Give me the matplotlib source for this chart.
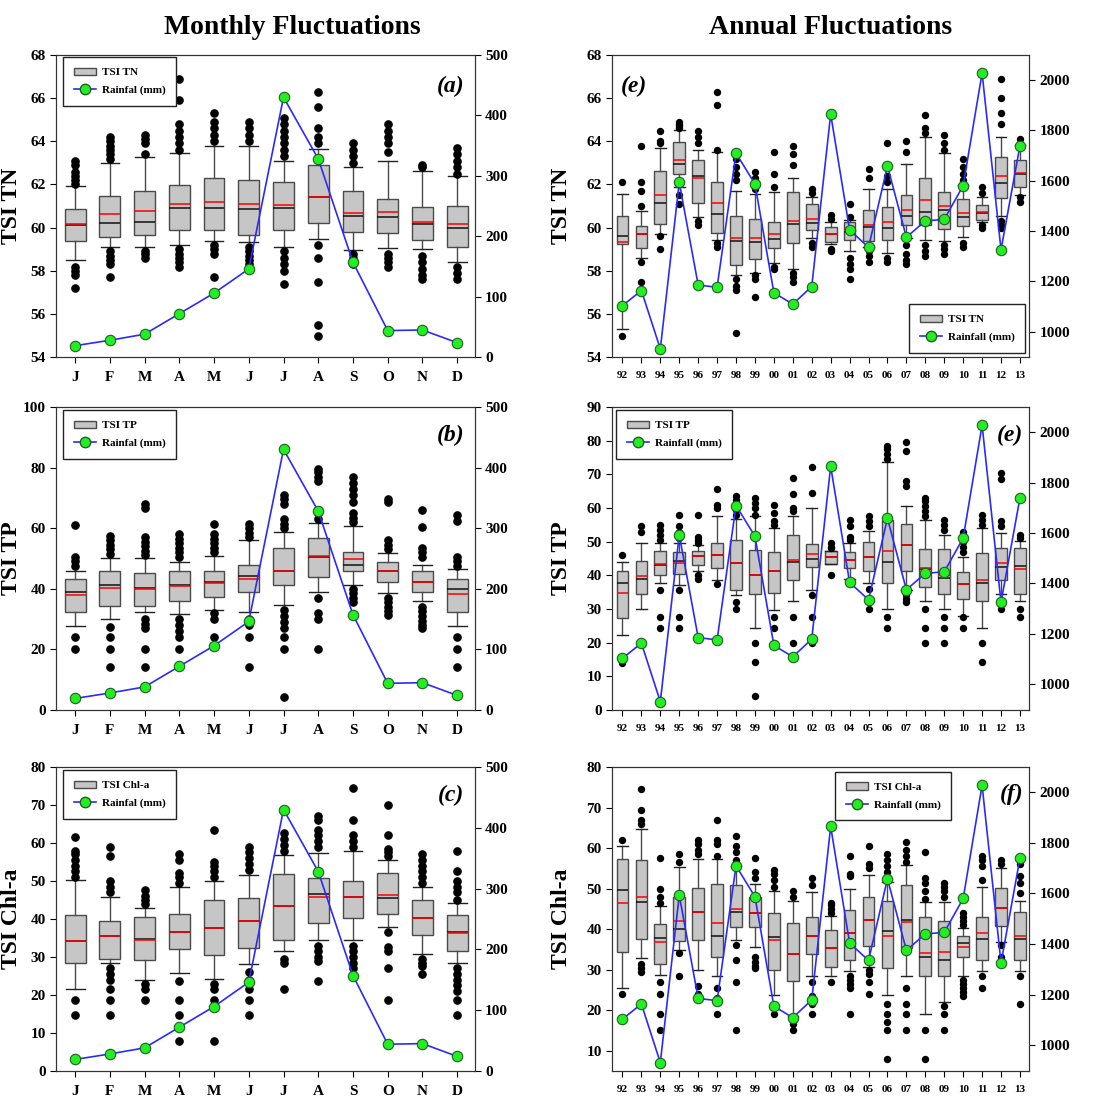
import matplotlib
matplotlib.use("Agg")
import matplotlib.pyplot as plt
from matplotlib.patches import Patch
from matplotlib.lines import Line2D

plt.rcParams["font.family"] = ["Liberation Serif", "DejaVu Serif"]
plt.rcParams["font.weight"] = "bold"

# --- DATA ---
months = ["J", "F", "M", "A", "M", "J", "J", "A", "S", "O", "N", "D"]
years = ["92", "93", "94", "95", "96", "97", "98", "99", "00", "01", "02",
         "03", "04", "05", "06", "07", "08", "09", "10", "11", "12", "13"]

rain_month = [19, 28, 38, 72, 106, 146, 430, 328, 157, 44, 45, 24]
rain_year = [1103, 1163, 931, 1593, 1185, 1176, 1709, 1587, 1154, 1109, 1179,
             1865, 1404, 1335, 1658, 1375, 1440, 1446, 1580, 2028, 1325, 1739]

# monthly TSI TN
tn_m_q1 = [59.39, 59.59, 59.66, 59.87, 59.90, 59.68, 59.87, 60.22, 59.79, 59.77, 59.42, 59.12]
tn_m_q3 = [60.87, 61.47, 61.72, 61.98, 62.32, 62.21, 62.10, 62.88, 61.70, 61.32, 60.95, 61.02]
tn_m_med = [60.12, 60.22, 60.28, 60.90, 60.90, 60.87, 60.93, 61.41, 60.54, 60.48, 60.16, 59.97]
tn_m_mean = [60.16, 60.64, 60.78, 61.09, 61.19, 61.10, 61.05, 61.44, 60.70, 60.71, 60.27, 60.16]
tn_m_lo = [58.49, 59.09, 59.09, 59.20, 59.36, 59.33, 59.12, 59.46, 58.97, 59.05, 58.99, 58.40]
tn_m_hi = [61.93, 62.98, 63.29, 63.45, 63.79, 63.79, 63.11, 63.65, 62.83, 63.11, 62.63, 62.37]
tn_m_out = [
    [63.1, 62.9, 62.6, 62.4, 62.2, 62.0, 58.2, 58.0, 57.8, 57.2],
    [63.2, 63.4, 63.6, 63.8, 64.0, 64.2, 58.9, 58.7, 58.5, 58.3, 57.7],
    [63.4, 63.9, 64.1, 64.3, 58.9, 58.8, 58.6],
    [63.6, 63.9, 64.2, 64.5, 64.8, 65.9, 66.9, 59.0, 58.8, 58.6, 58.4, 58.2],
    [64.0, 64.3, 64.6, 64.9, 65.3, 59.2, 59.0, 58.8, 57.7],
    [64.0, 64.3, 64.6, 64.9, 59.1, 58.9, 58.7, 58.5, 58.3],
    [63.3, 63.6, 63.9, 64.2, 64.5, 64.8, 65.1, 58.9, 58.6, 58.3, 58.0, 57.4],
    [63.9, 64.2, 64.6, 65.6, 66.3, 59.2, 58.6, 57.5, 55.5, 55.0],
    [63.0, 63.3, 63.6, 63.9, 58.8, 58.6, 58.3],
    [63.5, 63.9, 64.2, 64.5, 64.8, 58.8, 58.6, 58.4, 58.2],
    [62.8, 62.9, 58.7, 58.4, 58.1, 57.8, 57.6],
    [62.5, 62.8, 63.1, 63.4, 63.7, 58.2, 57.9, 57.6],
]

# monthly TSI TP
tp_m_q1 = [32.3, 34.3, 34.3, 35.9, 37.2, 38.9, 41.1, 44.0, 45.8, 42.2, 38.9, 32.3]
tp_m_q3 = [43.3, 45.8, 45.2, 45.8, 45.8, 48.0, 53.5, 56.8, 52.1, 48.8, 45.8, 43.3]
tp_m_med = [38.9, 41.3, 40.2, 41.1, 42.2, 44.2, 46.0, 50.4, 48.0, 45.7, 42.2, 40.0]
tp_m_mean = [38.0, 40.2, 40.0, 40.9, 42.0, 43.3, 46.0, 50.8, 49.9, 45.7, 42.2, 38.3]
tp_m_lo = [27.6, 30.0, 32.3, 31.7, 33.0, 32.3, 34.7, 38.9, 41.3, 38.5, 35.9, 27.6]
tp_m_hi = [46.0, 50.2, 50.2, 48.8, 50.7, 56.0, 58.7, 61.8, 60.6, 51.8, 48.0, 46.6]
tp_m_out = [
    [47.5, 49, 50.5, 61.2, 24.2, 20],
    [51.5, 53, 54.5, 56, 57.5, 27.5, 24.2, 20, 14.2],
    [51, 52.5, 54, 55.5, 57, 66.5, 68, 30, 28.5, 27, 20, 14.2],
    [50.5, 52, 53.5, 55, 56.5, 58, 30, 28, 26, 24.2, 20],
    [52, 53.5, 55, 56.5, 58, 61.5, 32, 30, 24.2],
    [57, 58.5, 60, 61.5, 30, 28, 24.2, 14.2],
    [60, 61.5, 63, 68, 69.5, 71, 33, 31, 29, 27, 24.2, 20, 4.2],
    [63, 65, 75.5, 77, 78.5, 79.5, 37, 32, 30, 20],
    [62, 63.5, 65, 68.5, 71, 73, 75, 77, 40, 38.5, 37, 35.5],
    [53, 54.5, 56, 68.5, 69.5, 37, 35.5, 34, 32.5, 31.5],
    [50.5, 52, 53.5, 60.5, 66, 34, 32.5, 31, 29.5, 28, 27],
    [47.5, 49, 50.5, 62.5, 64.5, 24.2, 20, 14.2],
]

# monthly TSI Chl-a
chl_m_q1 = [28.5, 29.4, 29.3, 32.2, 30.6, 32.4, 34.4, 39.0, 40.3, 41.2, 35.9, 31.6]
chl_m_q3 = [41.1, 39.4, 40.5, 41.4, 44.9, 45.6, 51.9, 50.8, 49.9, 52.2, 45.1, 41.1]
chl_m_med = [34.1, 35.4, 34.8, 36.6, 37.6, 39.6, 43.3, 46.7, 45.8, 45.5, 40.3, 36.6]
chl_m_mean = [34.3, 35.4, 34.4, 36.6, 37.6, 39.6, 43.3, 45.8, 45.8, 46.2, 40.3, 36.4]
chl_m_lo = [21.6, 28.5, 24.0, 25.8, 24.3, 28.1, 31.6, 34.4, 34.6, 37.9, 30.9, 28.5]
chl_m_hi = [50.2, 45.8, 43.0, 48.4, 49.9, 51.7, 56.9, 57.4, 57.8, 55.6, 48.4, 44.2]
chl_m_out = [
    [51, 52.5, 54, 55.5, 57, 58, 61.5, 18.8, 14.8],
    [47, 48.5, 50, 56.5, 59, 27, 25.5, 24, 21.5, 18.8, 14.8],
    [44, 45, 46, 47.5, 22.8, 21.5, 18.8],
    [49.5, 51, 52, 55.5, 57, 23.8, 18.8, 14.8, 8],
    [51, 52.5, 54, 55, 63.5, 23, 21.5, 18.8, 8],
    [53, 54.5, 56, 57.5, 59, 26, 24, 21.5, 18.8, 14.8],
    [58, 59.5, 61, 62.5, 29.5, 28.5, 21.5],
    [59, 60.5, 62, 63.5, 66, 67, 33, 31.5, 30, 29, 23.8],
    [59, 60.5, 62, 66, 74.5, 33, 31.5, 30, 28.5, 27],
    [56.5, 57.5, 58.5, 62, 70, 36.5, 32.5, 31.5, 27, 18.8],
    [49.5, 51, 52.5, 54, 55.5, 57, 29.5, 28.5, 27.5, 25.5],
    [45, 47, 48.5, 50, 52.5, 58, 27, 25.5, 24, 22.5, 21, 18.8, 14.8],
]

# annual TSI TN
tn_y_q1 = [59.26, 59.07, 60.19, 62.50, 61.12, 59.75, 58.25, 58.56, 59.07, 59.29, 59.91,
           59.34, 59.41, 59.38, 59.45, 60.11, 60.11, 59.96, 60.07, 60.34, 61.39, 61.86]
tn_y_q3 = [60.53, 60.07, 62.62, 63.95, 63.13, 62.12, 60.53, 60.42, 60.27, 61.66, 61.09,
           60.03, 60.27, 60.81, 60.96, 61.53, 62.28, 61.66, 61.32, 61.04, 63.28, 63.13]
tn_y_med = [59.60, 59.69, 61.15, 62.97, 62.40, 60.62, 59.37, 59.34, 59.46, 60.19, 60.22,
            59.72, 59.80, 60.03, 59.99, 60.53, 60.73, 60.81, 60.50, 60.68, 62.09, 62.50]
tn_y_mean = [59.34, 59.72, 61.50, 63.13, 62.28, 61.15, 59.54, 59.52, 59.69, 60.30, 60.42,
             59.72, 60.00, 60.14, 60.27, 60.84, 61.30, 61.00, 60.68, 60.73, 62.40, 62.54]
tn_y_lo = [55.31, 58.61, 59.72, 61.89, 60.50, 59.45, 57.79, 57.90, 58.36, 58.10, 59.54,
           59.23, 58.90, 59.10, 58.83, 59.54, 59.41, 59.37, 59.57, 60.27, 60.53, 61.50]
tn_y_hi = [61.55, 60.76, 63.67, 64.52, 63.62, 63.51, 61.70, 61.58, 61.66, 62.32, 61.43,
           60.27, 60.34, 61.81, 61.81, 62.93, 64.21, 63.47, 61.97, 61.43, 64.21, 63.82]
tn_y_out = [
    [62.1, 54.97], [61.0, 61.7, 62.1, 63.8, 58.4, 57.5, 57.0], [63.9, 64.0, 64.5, 59.6, 59.0],
    [64.6, 64.7, 64.8, 64.9, 61.5, 61.1], [63.9, 64.2, 64.5, 60.3, 60.1],
    [63.6, 65.7, 66.3, 59.3, 59.1], [62.2, 62.5, 62.8, 63.2, 57.6, 57.3, 57.1, 55.1],
    [61.8, 62.3, 62.6, 57.8, 57.6, 56.8], [61.9, 62.5, 63.5, 58.2, 58.1],
    [62.9, 63.4, 63.8, 57.9, 57.7, 57.5], [61.6, 61.8, 59.3, 59.1], [60.4, 60.6, 59.0, 58.9],
    [60.5, 61.1, 58.6, 58.3, 58.1, 57.6], [62.3, 62.7, 58.9, 58.7, 58.4],
    [62.1, 62.4, 63.9, 58.6, 58.4], [63.5, 64.0, 59.2, 58.8, 58.5, 58.3],
    [64.4, 64.6, 65.2, 59.2, 58.9, 58.7], [63.6, 63.9, 64.3, 59.2, 59.0, 58.8],
    [62.2, 62.5, 62.8, 63.2, 59.3, 59.1], [61.6, 61.9, 60.1, 60.0],
    [64.8, 65.3, 66.0, 66.9, 60.3, 60.1, 60.0], [64.1, 61.4, 61.2],
]

# annual TSI TP
tp_y_q1 = [27.3, 34.3, 40.0, 40.4, 43.1, 42.2, 35.7, 34.3, 34.7, 38.7, 42.4,
           43.4, 42.2, 41.4, 37.7, 41.2, 36.4, 34.3, 33.0, 32.3, 38.7, 34.3]
tp_y_q3 = [41.2, 44.1, 47.3, 46.8, 47.1, 49.6, 50.5, 47.6, 46.9, 52.0, 49.3,
           47.1, 46.8, 50.0, 56.3, 55.3, 47.9, 47.9, 41.0, 46.6, 48.1, 48.1]
tp_y_med = [37.7, 39.0, 43.1, 44.1, 45.6, 46.1, 43.6, 40.0, 41.2, 43.8, 44.8,
            45.3, 44.6, 45.3, 43.8, 48.9, 41.9, 39.2, 37.4, 37.7, 42.6, 42.9]
tp_y_mean = [34.7, 39.7, 43.3, 43.6, 45.8, 46.1, 43.6, 40.0, 41.2, 44.6, 46.4,
             45.3, 44.6, 45.3, 47.3, 48.9, 42.2, 40.2, 37.4, 38.5, 43.6, 41.9]
tp_y_lo = [22.2, 30.0, 37.7, 37.2, 41.2, 38.7, 34.0, 24.4, 29.8, 32.3, 35.7,
           43.4, 38.9, 37.7, 30.0, 35.7, 32.3, 30.0, 27.8, 24.2, 34.3, 32.3]
tp_y_hi = [43.8, 49.6, 49.6, 49.6, 48.9, 57.7, 56.8, 57.5, 54.0, 57.5, 60.1,
           47.3, 49.6, 53.3, 73.7, 60.6, 56.3, 52.0, 45.4, 54.0, 52.7, 50.2]
tp_y_out = [
    [46, 14], [53, 54.5], [50.5, 52, 53.5, 55, 35.5, 27.5, 24.2],
    [51, 53, 54.5, 58, 35.5, 27.5, 24.2], [49.5, 50.5, 51.5, 58, 40, 38.8],
    [60, 61, 65.5, 37.5], [58, 59.5, 61, 62.5, 63.5, 32, 30],
    [58, 60, 61.5, 63, 20, 14.2, 4.2], [55, 56, 58.5, 61, 27.5, 24.2, 20],
    [59, 60, 64, 69, 27.5, 20], [64.5, 72.3, 34, 27.5, 20], [48, 48.5, 49.5, 40],
    [50.5, 51.5, 54.5, 56.5, 38], [54.5, 56, 57.5, 36, 32, 30],
    [74.5, 76, 77.5, 78.5, 27.5, 24.2], [66.5, 68, 77, 79.5, 34, 33, 32],
    [57.5, 59, 60.5, 62, 63, 30, 24.2, 20], [53.5, 55, 56.5, 27.5, 24.2, 20],
    [47, 48.5, 50, 51.5, 53, 27.5, 24.2], [55, 56.5, 58, 20, 14.2],
    [54.5, 56, 68.5, 70.5, 32, 30], [51, 52, 30, 27.5],
]

# annual TSI Chl-a
chl_y_q1 = [34.4, 37.6, 31.3, 37.0, 37.3, 33.2, 40.6, 40.6, 29.9, 27.3, 33.9,
            30.7, 32.4, 35.8, 30.3, 35.4, 28.4, 28.4, 33.0, 32.5, 40.8, 32.4]
chl_y_q3 = [57.3, 57.1, 41.2, 48.0, 50.1, 51.2, 50.9, 48.0, 43.9, 41.4, 43.1,
            39.8, 44.6, 47.9, 47.0, 50.9, 43.1, 42.1, 38.4, 42.9, 50.1, 44.1]
chl_y_med = [49.7, 46.8, 37.9, 40.0, 44.1, 38.2, 44.1, 43.9, 38.0, 33.9, 38.2,
             35.3, 39.1, 42.3, 39.6, 42.3, 33.2, 32.5, 36.5, 37.5, 45.2, 37.5]
chl_y_mean = [46.4, 47.9, 36.9, 42.0, 44.1, 41.5, 45.0, 43.9, 37.3, 33.9, 38.2,
              35.3, 39.0, 42.3, 38.4, 41.8, 34.2, 34.4, 35.7, 39.0, 45.2, 38.3]
chl_y_lo = [25.4, 32.8, 28.7, 34.9, 29.8, 28.5, 37.3, 35.7, 23.7, 18.6, 28.5,
            28.5, 29.7, 30.7, 23.7, 28.5, 19.0, 21.9, 28.4, 29.7, 36.9, 29.7]
chl_y_hi = [60.4, 64.7, 45.8, 55.3, 57.3, 57.3, 55.5, 51.1, 49.5, 47.0, 49.1,
            43.3, 49.9, 53.4, 51.7, 55.7, 46.6, 46.6, 40.2, 50.5, 55.0, 47.0]
chl_y_out = [
    [62, 24], [66, 67, 69.5, 74.5, 31.5, 30.5, 29.5], [46.5, 48, 50, 57.5, 27, 24, 19, 15],
    [56.5, 58.5, 34, 28.5], [58.5, 59.5, 61, 62, 26, 24], [58, 61, 62, 67, 25.5, 23, 19],
    [57, 59, 60.5, 63, 36, 32.5, 27, 15], [52.5, 54, 57.5, 33, 32, 31, 30.5],
    [50.5, 52, 53.5, 54.5, 21, 19], [48, 49.5, 16.5, 15], [51, 52.5, 27, 23.5, 21.5, 19],
    [44, 45, 46, 46.5, 27], [53, 53.5, 58, 28.5, 27.5, 26.5, 25.5, 19],
    [55, 56, 60.5, 30, 29, 27, 24], [52.5, 54, 55.5, 57, 58.5, 21.5, 19, 17, 15, 8],
    [56.5, 58, 59.5, 61.5, 25.5, 21.5, 19, 15], [47.5, 49.5, 51.5, 52.5, 59, 15, 8],
    [48, 49.5, 50.5, 51.5, 21, 19, 15], [41, 42, 43, 44, 27.5, 26.5, 25.5, 24.5, 23.5],
    [52, 55.5, 57, 58, 28.5, 25.5], [56, 57, 36, 33], [49, 51.5, 53, 56, 28.5, 21.5],
]

BOX_FACE = "#c6c6c6"
EDGE = "#4a4a4a"


def draw_panel(ax, labels, q1, med, mean, q3, lo, hi, out, rain, ylim, yticks,
               rlim, rticks, ylabel, leg_label, rain_label, tag, tag_pos, leg_kw,
               width, msize, xfont, ylab_x):
    pos = list(range(1, len(labels) + 1))
    stats = []
    for i in range(len(labels)):
        stats.append(dict(med=med[i], q1=q1[i], q3=q3[i], whislo=lo[i], whishi=hi[i],
                          mean=mean[i], fliers=out[i]))
    ax.bxp(stats, positions=pos, widths=width, patch_artist=True,
           showmeans=True, meanline=True,
           boxprops=dict(facecolor=BOX_FACE, edgecolor=EDGE, linewidth=1.0),
           medianprops=dict(color="#111111", linewidth=1.1),
           meanprops=dict(color="red", linestyle="-", linewidth=1.1),
           whiskerprops=dict(color=EDGE, linewidth=1.0),
           capprops=dict(color="#222222", linewidth=1.0),
           capwidths=width * 0.9,
           flierprops=dict(marker="o", markerfacecolor="black", markeredgecolor="black",
                           markersize=msize, linestyle="none"))
    ax.set_xlim(0.45, len(labels) + 0.5)
    ax.set_ylim(*ylim)
    ax.set_yticks(yticks)
    ax.set_xticks(pos)
    ax.set_xticklabels(labels, fontsize=xfont, fontweight="bold")
    ax.tick_params(axis="y", labelsize=11, direction="out", length=4)
    ax.tick_params(axis="x", direction="out", length=4, pad=6)
    ax.set_ylabel(ylabel, fontsize=17, fontweight="bold")
    ax.yaxis.set_label_coords(ylab_x, 0.5)
    for s in ax.spines.values():
        s.set_color("#333333")

    ax2 = ax.twinx()
    ax2.plot(pos, rain, color="#2a2aff", linewidth=1.2, marker="o",
             markerfacecolor="#22ee22", markeredgecolor="#206020", markersize=7.5,
             markeredgewidth=0.8)
    ax2.set_ylim(*rlim)
    ax2.set_yticks(rticks)
    ax2.tick_params(axis="y", labelsize=11, direction="out", length=4)
    for s in ax2.spines.values():
        s.set_color("#333333")

    handles = [Patch(facecolor=BOX_FACE, edgecolor=EDGE, linewidth=1.0),
               Line2D([], [], color="#2a2aff", linewidth=1.2, marker="o",
                      markerfacecolor="#22ee22", markeredgecolor="#206020", markersize=7.5)]
    leg = ax2.legend(handles, [leg_label, rain_label], fancybox=False, framealpha=1,
                     edgecolor="#222222", prop=dict(size=8, weight="bold"),
                     handlelength=2.0, handletextpad=0.5, borderpad=0.95,
                     labelspacing=0.7, borderaxespad=0, **leg_kw)
    leg.get_frame().set_linewidth(1.0)
    ax2.text(tag_pos[0], tag_pos[1], tag, transform=ax.transAxes, fontsize=17,
             fontstyle="italic", fontweight="bold", ha=tag_pos[2], va="center")


fig = plt.figure(figsize=(11.1, 10.99), dpi=100)

left_x, left_w = 0.0505, 0.377
right_x, right_w = 0.5514, 0.376
rows = [(0.675, 0.275), (0.354, 0.2757), (0.0255, 0.2766)]

ax_a = fig.add_axes([left_x, rows[0][0], left_w, rows[0][1]])
ax_e = fig.add_axes([right_x, rows[0][0], right_w, rows[0][1]])
ax_b = fig.add_axes([left_x, rows[1][0], left_w, rows[1][1]])
ax_e2 = fig.add_axes([right_x, rows[1][0], right_w, rows[1][1]])
ax_c = fig.add_axes([left_x, rows[2][0], left_w, rows[2][1]])
ax_f = fig.add_axes([right_x, rows[2][0], right_w, rows[2][1]])

m_rlim, m_rticks = (0, 500), [0, 100, 200, 300, 400, 500]
y_rlim, y_rticks = (898, 2100), [1000, 1200, 1400, 1600, 1800, 2000]
lx_left, lx_right = -0.082, -0.097

draw_panel(ax_a, months, tn_m_q1, tn_m_med, tn_m_mean, tn_m_q3, tn_m_lo, tn_m_hi, tn_m_out,
           rain_month, (54, 68), range(54, 69, 2), m_rlim, m_rticks, "TSI TN", "TSI TN",
           "Rainfal (mm)", "(a)", (0.975, 0.895, "right"),
           dict(loc="upper left", bbox_to_anchor=(0.017, 0.993)), 0.6, 5.2, 11, lx_left)
draw_panel(ax_b, months, tp_m_q1, tp_m_med, tp_m_mean, tp_m_q3, tp_m_lo, tp_m_hi, tp_m_out,
           rain_month, (0, 100), range(0, 101, 20), m_rlim, m_rticks, "TSI TP", "TSI TP",
           "Rainfal (mm)", "(b)", (0.975, 0.905, "right"),
           dict(loc="upper left", bbox_to_anchor=(0.017, 0.99)), 0.6, 5.2, 11, lx_left)
draw_panel(ax_c, months, chl_m_q1, chl_m_med, chl_m_mean, chl_m_q3, chl_m_lo, chl_m_hi,
           chl_m_out, rain_month, (0, 80), range(0, 81, 10), m_rlim, m_rticks, "TSI Chl-a",
           "TSI Chl-a", "Rainfal (mm)", "(c)", (0.975, 0.905, "right"),
           dict(loc="upper left", bbox_to_anchor=(0.017, 0.99)), 0.6, 5.2, 11, lx_left)
draw_panel(ax_e, years, tn_y_q1, tn_y_med, tn_y_mean, tn_y_q3, tn_y_lo, tn_y_hi, tn_y_out,
           rain_year, (54, 68), range(54, 69, 2), y_rlim, y_rticks, "TSI TN", "TSI TN",
           "Rainfall (mm)", "(e)", (0.02, 0.895, "left"),
           dict(loc="lower right", bbox_to_anchor=(0.99, 0.015)), 0.62, 4.3, 8, lx_right)
draw_panel(ax_e2, years, tp_y_q1, tp_y_med, tp_y_mean, tp_y_q3, tp_y_lo, tp_y_hi, tp_y_out,
           rain_year, (0, 90), range(0, 91, 10), y_rlim, y_rticks, "TSI TP", "TSI TP",
           "Rainfall (mm)", "(e)", (0.985, 0.905, "right"),
           dict(loc="upper left", bbox_to_anchor=(0.01, 0.99)), 0.62, 4.3, 8, lx_right)
draw_panel(ax_f, years, chl_y_q1, chl_y_med, chl_y_mean, chl_y_q3, chl_y_lo, chl_y_hi,
           chl_y_out, rain_year, (5, 80), range(10, 81, 10), y_rlim, y_rticks, "TSI Chl-a",
           "TSI Chl-a", "Rainfall (mm)", "(f)", (0.985, 0.91, "right"),
           dict(loc="upper left", bbox_to_anchor=(0.535, 0.985)), 0.62, 4.3, 8, lx_right)

fig.text(0.263, 0.975, "Monthly Fluctuations", fontsize=20, fontweight="bold",
         ha="center", va="center")
fig.text(0.748, 0.975, "Annual Fluctuations", fontsize=20, fontweight="bold",
         ha="center", va="center")

fig.savefig("out.png", dpi=100)
